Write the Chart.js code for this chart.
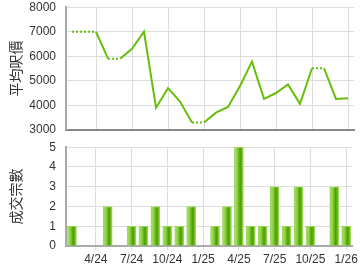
<!DOCTYPE html>
<html>
<head>
<meta charset="utf-8">
<script src="https://cdn.jsdelivr.net/npm/chart.js@4"></script>
<style>
  body { margin: 0; background: #fff; overflow: hidden; }
  #wrap { position: relative; width: 360px; height: 270px; overflow: hidden; }
  #top { position: absolute; left: 0; top: -10px; }
  #bottom { position: absolute; left: 0; top: 130px; }
</style>
</head>
<body>
<div id="wrap">
  <div id="top" style="width:360px;height:157px"><canvas id="priceChart"></canvas></div>
  <div id="bottom" style="width:360px;height:142px"><canvas id="countChart"></canvas></div>
</div>
<script>
const months = ['2/24','3/24','4/24','5/24','6/24','7/24','8/24','9/24','10/24','11/24','12/24',
  '1/25','2/25','3/25','4/25','5/25','6/25','7/25','8/25','9/25','10/25','11/25','12/25','1/26'];
// average price per sq ft (months with no deal carry the previous value)
const avgPrice = [7000,7000,7000,5900,5900,6300,7000,3900,4700,4150,3300,
  3300,3700,3930,4790,5780,4260,4500,4850,4060,5510,5510,4260,4290];
// number of deals
const dealCount = [1,0,0,2,0,1,1,2,1,1,2,0,1,2,5,1,1,3,1,3,1,0,3,1];
const tickMonths = ['4/24','7/24','10/24','1/25','4/25','7/25','10/25','1/26'];

const green = '#66bf0a';
const gridCol = '#dddddd';
const font = {family: 'Liberation Sans, Arial, sans-serif', size: 12};
const cjk = {family: 'Noto Sans CJK TC, sans-serif', size: 14};

function vGrid(ctx) {
  return tickMonths.includes(months[ctx.index]) ? gridCol : 'rgba(0,0,0,0)';
}

// horizontal gradient per bar, light edges with a darker stripe
function barFill(context) {
  const chart = context.chart;
  const xs = chart.scales.x;
  if (!xs || !chart.chartArea || context.dataIndex === undefined) return '#7cc832';
  const cx = xs.getPixelForValue(context.dataIndex);
  const w = 9;
  const g = chart.ctx.createLinearGradient(cx - w / 2, 0, cx + w / 2, 0);
  g.addColorStop(0, '#a8e26a');
  g.addColorStop(0.3, '#8fd446');
  g.addColorStop(0.65, '#4f9c02');
  g.addColorStop(0.85, '#6cba1c');
  g.addColorStop(1, '#a0dc60');
  return g;
}

new Chart(document.getElementById('priceChart'), {
  type: 'line',
  data: {
    labels: months,
    datasets: [{
      data: avgPrice,
      borderColor: green,
      borderWidth: 2,
      pointRadius: 0,
      tension: 0,
      segment: {
        borderDash: c => dealCount[c.p1DataIndex] === 0 ? [2, 2] : undefined
      }
    }]
  },
  options: {
    animation: false,
    responsive: true,
    maintainAspectRatio: false,
    layout: {padding: {right: 6, bottom: 0}},
    plugins: {legend: {display: false}, tooltip: {enabled: false}},
    scales: {
      x: {
        offset: true,
        grid: {offset: false, color: vGrid, drawTicks: false},
        border: {color: '#888', width: 2},
        ticks: {display: false, autoSkip: false},
        afterFit: s => { s.height = 8; }
      },
      y: {
        min: 3000, max: 8000,
        ticks: {stepSize: 1000, color: '#333', font: font, padding: 10, callback: v => v},
        grid: {color: gridCol, drawTicks: false},
        border: {color: '#aaa', width: 2},
        title: {display: true, text: '平均呎價', color: '#333', font: cjk, padding: {top: 7, bottom: 0}},
        afterFit: s => { s.width = 66; }
      }
    }
  }
});

new Chart(document.getElementById('countChart'), {
  type: 'bar',
  data: {
    labels: months,
    datasets: [{
      data: dealCount,
      backgroundColor: barFill,
      borderColor: '#9ad85a',
      borderWidth: 1,
      barThickness: 9
    }]
  },
  options: {
    animation: false,
    responsive: true,
    maintainAspectRatio: false,
    layout: {padding: {right: 6}},
    plugins: {legend: {display: false}, tooltip: {enabled: false}},
    scales: {
      x: {
        offset: true,
        grid: {offset: false, color: vGrid, tickLength: 4},
        border: {color: '#aaa', width: 2},
        ticks: {
          autoSkip: false, maxRotation: 0, color: '#333', font: font, padding: 2,
          callback: (v, i) => tickMonths.includes(months[i]) ? months[i] : ''
        },
        afterFit: s => { s.height = 26; }
      },
      y: {
        min: 0, max: 5,
        ticks: {stepSize: 1, autoSkip: false, color: '#333', font: font, padding: 10},
        grid: {color: gridCol, drawTicks: false},
        border: {color: '#aaa', width: 2},
        title: {display: true, text: '成交宗數', color: '#333', font: cjk, padding: {top: 7, bottom: 0}},
        afterFit: s => { s.width = 66; }
      }
    }
  }
});
</script>
</body>
</html>
